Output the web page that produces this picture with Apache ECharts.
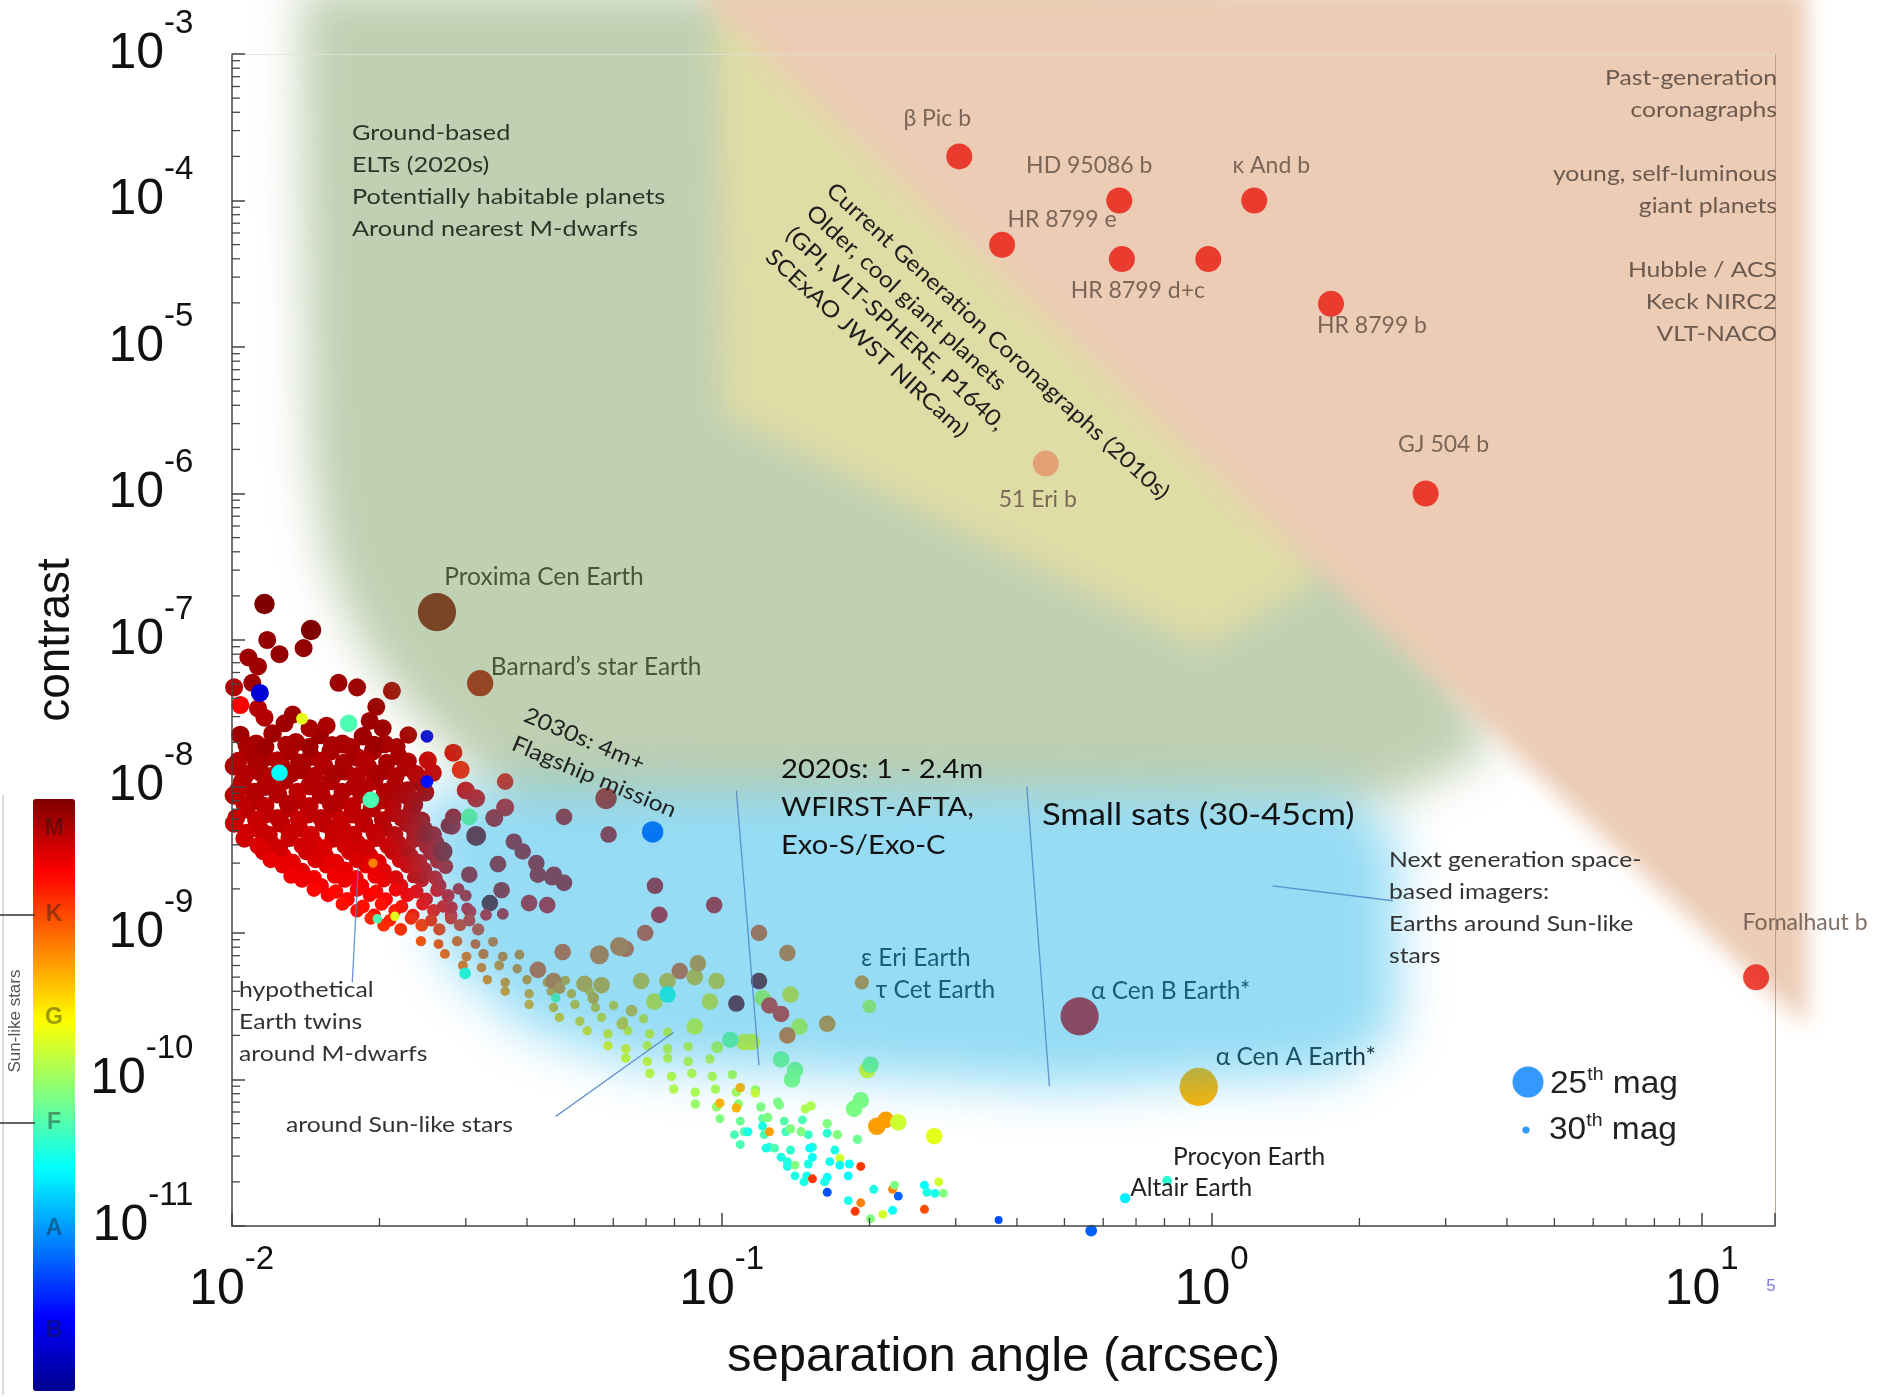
<!DOCTYPE html>
<html>
<head>
<meta charset="utf-8">
<script src="https://cdn.jsdelivr.net/npm/echarts@6/dist/echarts.min.js"></script>
<style>
  html, body { margin: 0; padding: 0; background: #fff; }
  #chart { width: 1883px; height: 1397px; }
</style>
</head>
<body>
<div id="chart"></div>
<script>
// axis ranges (separation in arcsec, contrast)
var X_MIN = 0.01, X_MAX = 14.1;
var Y_MIN = 1e-11, Y_MAX = 1e-3;
var xDecades = [0.01, 0.1, 1, 10];
var yDecades = [1e-11, 1e-10, 1e-9, 1e-8, 1e-7, 1e-6, 1e-5, 1e-4];
var minorSteps = [2, 3, 4, 5, 6, 7, 8, 9];

// hypothetical Earth twins: [separation, contrast, magnitude, spectral type 0=B .. 1=M]
var mDwarfCore = [
  [0.0104, 2.25e-8, 27.6, 0.97], [0.0112, 1.95e-8, 27.5, 0.96], [0.0121, 2.3e-8, 27.6, 0.97], [0.0135, 2.0e-8, 27.5, 0.96],
  [0.0151, 2.25e-8, 27.6, 0.97], [0.0168, 1.95e-8, 27.5, 0.96], [0.0185, 2.2e-8, 27.6, 0.97], [0.0205, 1.95e-8, 27.6, 0.96],
  [0.0229, 2.25e-8, 27.8, 0.96],
  [0.0108, 1.72e-8, 27.5, 0.96], [0.0117, 1.58e-8, 27.5, 0.96], [0.0131, 1.75e-8, 27.6, 0.96], [0.0145, 1.6e-8, 27.5, 0.96],
  [0.0159, 1.74e-8, 27.6, 0.96], [0.0180, 1.58e-8, 27.5, 0.96], [0.0194, 1.75e-8, 27.6, 0.96], [0.0219, 1.6e-8, 27.7, 0.96],
  [0.0101, 1.38e-8, 27.5, 0.95], [0.0114, 1.26e-8, 27.5, 0.96], [0.0126, 1.4e-8, 27.6, 0.95], [0.0139, 1.3e-8, 27.5, 0.96],
  [0.0154, 1.38e-8, 27.5, 0.95], [0.0170, 1.27e-8, 27.6, 0.96], [0.0189, 1.37e-8, 27.5, 0.95], [0.0206, 1.28e-8, 27.6, 0.96],
  [0.0226, 1.35e-8, 27.7, 0.95],
  [0.0105, 1.08e-8, 27.5, 0.95], [0.0117, 1.0e-8, 27.5, 0.95], [0.0128, 1.1e-8, 27.6, 0.95], [0.0144, 1.01e-8, 27.5, 0.95],
  [0.0159, 1.09e-8, 27.6, 0.95], [0.0178, 1.0e-8, 27.5, 0.95], [0.0195, 1.09e-8, 27.6, 0.95], [0.0215, 1.01e-8, 27.6, 0.95],
  [0.0240, 1.07e-8, 27.8, 0.95],
  [0.0101, 8.7e-9, 27.5, 0.94], [0.0112, 8.0e-9, 27.6, 0.95], [0.0124, 8.9e-9, 27.5, 0.95], [0.0136, 8.1e-9, 27.6, 0.95],
  [0.0152, 8.8e-9, 27.5, 0.95], [0.0166, 8.0e-9, 27.6, 0.95], [0.0184, 8.9e-9, 27.5, 0.95], [0.0202, 8.1e-9, 27.6, 0.95],
  [0.0224, 8.8e-9, 27.7, 0.95],
  [0.0107, 7.0e-9, 27.6, 0.94], [0.0117, 6.5e-9, 27.5, 0.94], [0.0131, 7.1e-9, 27.6, 0.94], [0.0143, 6.5e-9, 27.5, 0.94],
  [0.0161, 7.0e-9, 27.6, 0.94], [0.0176, 6.5e-9, 27.5, 0.94], [0.0193, 7.1e-9, 27.6, 0.94], [0.0213, 6.6e-9, 27.7, 0.94],
  [0.0233, 7.0e-9, 27.7, 0.94],
  [0.0101, 5.6e-9, 27.6, 0.93], [0.0114, 5.1e-9, 27.6, 0.93], [0.0126, 5.6e-9, 27.6, 0.94], [0.0137, 5.2e-9, 27.6, 0.93],
  [0.0154, 5.6e-9, 27.6, 0.94], [0.0168, 5.15e-9, 27.6, 0.93], [0.0186, 5.6e-9, 27.6, 0.94], [0.0204, 5.2e-9, 27.7, 0.94],
  [0.0228, 5.6e-9, 27.7, 0.94], [0.0247, 5.1e-9, 27.8, 0.94],
  [0.0106, 4.4e-9, 27.7, 0.92], [0.0120, 4.1e-9, 27.7, 0.92], [0.0131, 4.45e-9, 27.7, 0.93], [0.0147, 4.1e-9, 27.7, 0.92],
  [0.0161, 4.4e-9, 27.7, 0.93], [0.0180, 4.1e-9, 27.7, 0.92], [0.0197, 4.45e-9, 27.7, 0.93], [0.0218, 4.1e-9, 27.8, 0.93],
  [0.0236, 4.4e-9, 27.8, 0.93], [0.0261, 4.1e-9, 28, 0.93],
  [0.0116, 3.6e-9, 27.8, 0.91], [0.0127, 3.35e-9, 27.8, 0.91], [0.0142, 3.6e-9, 27.8, 0.92], [0.0155, 3.35e-9, 27.8, 0.91],
  [0.0174, 3.6e-9, 27.8, 0.92], [0.0191, 3.35e-9, 27.8, 0.91], [0.0213, 3.6e-9, 27.9, 0.92], [0.0231, 3.35e-9, 27.9, 0.92],
  [0.0255, 3.55e-9, 28, 0.92],
  [0.0127, 2.9e-9, 28, 0.9], [0.0139, 2.65e-9, 28, 0.9], [0.0156, 2.9e-9, 28, 0.9], [0.0170, 2.7e-9, 28, 0.9],
  [0.0188, 2.9e-9, 28, 0.9], [0.0204, 2.65e-9, 28.1, 0.9], [0.0228, 2.9e-9, 28.1, 0.91], [0.0247, 2.7e-9, 28.2, 0.91],
  [0.0273, 2.85e-9, 28.3, 0.91],
  [0.0139, 2.3e-9, 28.2, 0.89], [0.0152, 2.1e-9, 28.2, 0.89], [0.0170, 2.3e-9, 28.2, 0.89], [0.0184, 2.1e-9, 28.3, 0.89],
  [0.0204, 2.3e-9, 28.3, 0.89], [0.0221, 2.1e-9, 28.3, 0.89], [0.0244, 2.3e-9, 28.4, 0.9], [0.0265, 2.1e-9, 28.5, 0.9],
  [0.0157, 1.82e-9, 28.4, 0.88], [0.0172, 1.7e-9, 28.4, 0.87], [0.0191, 1.82e-9, 28.5, 0.88], [0.0206, 1.7e-9, 28.5, 0.87],
  [0.0228, 1.82e-9, 28.5, 0.88], [0.0249, 1.7e-9, 28.6, 0.88], [0.0276, 1.8e-9, 28.7, 0.89],
  [0.0180, 1.42e-9, 28.6, 0.86], [0.0195, 1.32e-9, 28.6, 0.86], [0.0215, 1.42e-9, 28.7, 0.85], [0.0234, 1.32e-9, 28.7, 0.86],
  [0.0258, 1.42e-9, 28.7, 0.86], [0.0280, 1.32e-9, 28.8, 0.87], [0.0306, 1.4e-9, 28.8, 0.87],
  [0.0204, 1.13e-9, 28.8, 0.83], [0.0221, 1.06e-9, 28.8, 0.83], [0.0244, 1.13e-9, 28.8, 0.82], [0.0265, 1.06e-9, 28.9, 0.82],
  [0.0292, 1.13e-9, 28.9, 0.83], [0.0318, 1.06e-9, 28.9, 0.83]
];

// stars lying between the rows above, filling the dense M-dwarf mass
var mDwarfFill = [
  [0.0107, 1.92e-8, 27.7, 0.96], [0.0117, 1.86e-8, 27.7, 0.97], [0.0129, 1.93e-8, 27.7, 0.96], [0.0144, 1.87e-8, 27.7, 0.97],
  [0.0160, 1.92e-8, 27.7, 0.96], [0.0175, 1.86e-8, 27.7, 0.96], [0.0195, 1.93e-8, 27.7, 0.97], [0.0217, 1.87e-8, 27.8, 0.96],
  [0.0103, 1.5e-8, 27.7, 0.95], [0.0112, 1.45e-8, 27.7, 0.96], [0.0124, 1.51e-8, 27.7, 0.95], [0.0137, 1.46e-8, 27.7, 0.96],
  [0.0152, 1.5e-8, 27.7, 0.95], [0.0169, 1.45e-8, 27.7, 0.96], [0.0186, 1.51e-8, 27.7, 0.95], [0.0207, 1.46e-8, 27.8, 0.96],
  [0.0229, 1.49e-8, 27.9, 0.95],
  [0.0107, 1.22e-8, 27.7, 0.95], [0.0120, 1.18e-8, 27.7, 0.95], [0.0132, 1.22e-8, 27.7, 0.96], [0.0147, 1.18e-8, 27.7, 0.95],
  [0.0162, 1.22e-8, 27.7, 0.96], [0.0180, 1.18e-8, 27.7, 0.95], [0.0198, 1.22e-8, 27.7, 0.96], [0.0216, 1.18e-8, 27.8, 0.95],
  [0.0238, 1.21e-8, 27.9, 0.95],
  [0.0103, 9.5e-9, 27.7, 0.94], [0.0111, 9.2e-9, 27.7, 0.95], [0.0123, 9.6e-9, 27.7, 0.95], [0.0136, 9.2e-9, 27.7, 0.94],
  [0.0151, 9.5e-9, 27.7, 0.95], [0.0168, 9.2e-9, 27.7, 0.95], [0.0186, 9.6e-9, 27.7, 0.95], [0.0205, 9.2e-9, 27.8, 0.95],
  [0.0228, 9.5e-9, 27.9, 0.95],
  [0.0106, 7.6e-9, 27.7, 0.94], [0.0117, 7.35e-9, 27.7, 0.94], [0.0130, 7.6e-9, 27.7, 0.95], [0.0144, 7.35e-9, 27.7, 0.94],
  [0.0159, 7.6e-9, 27.7, 0.95], [0.0176, 7.35e-9, 27.7, 0.94], [0.0194, 7.6e-9, 27.7, 0.95], [0.0213, 7.35e-9, 27.8, 0.94],
  [0.0236, 7.55e-9, 27.9, 0.95],
  [0.0102, 6.1e-9, 27.7, 0.93], [0.0112, 5.9e-9, 27.7, 0.93], [0.0124, 6.1e-9, 27.7, 0.94], [0.0137, 5.9e-9, 27.7, 0.93],
  [0.0152, 6.1e-9, 27.7, 0.94], [0.0167, 5.9e-9, 27.7, 0.93], [0.0184, 6.1e-9, 27.7, 0.94], [0.0203, 5.9e-9, 27.8, 0.94],
  [0.0222, 6.1e-9, 27.8, 0.94], [0.0244, 5.9e-9, 27.9, 0.94],
  [0.0107, 4.85e-9, 27.8, 0.92], [0.0119, 4.7e-9, 27.8, 0.93], [0.0131, 4.85e-9, 27.8, 0.93], [0.0145, 4.7e-9, 27.8, 0.92],
  [0.0161, 4.85e-9, 27.8, 0.93], [0.0177, 4.7e-9, 27.8, 0.93], [0.0195, 4.85e-9, 27.8, 0.93], [0.0215, 4.7e-9, 27.9, 0.93],
  [0.0236, 4.85e-9, 27.9, 0.93], [0.0258, 4.7e-9, 28, 0.93],
  [0.0113, 3.95e-9, 27.9, 0.91], [0.0125, 3.82e-9, 27.9, 0.92], [0.0139, 3.95e-9, 27.9, 0.92], [0.0154, 3.82e-9, 27.9, 0.91],
  [0.0170, 3.95e-9, 27.9, 0.92], [0.0188, 3.82e-9, 27.9, 0.92], [0.0208, 3.95e-9, 27.9, 0.92], [0.0228, 3.82e-9, 28, 0.92],
  [0.0250, 3.9e-9, 28.1, 0.92],
  [0.0120, 3.15e-9, 28, 0.9], [0.0133, 3.05e-9, 28, 0.9], [0.0148, 3.15e-9, 28, 0.91], [0.0163, 3.05e-9, 28, 0.9],
  [0.0180, 3.15e-9, 28, 0.91], [0.0199, 3.05e-9, 28, 0.9], [0.0220, 3.15e-9, 28.1, 0.91], [0.0241, 3.05e-9, 28.1, 0.91],
  [0.0263, 3.1e-9, 28.2, 0.91],
  [0.0132, 2.45e-9, 28.2, 0.89], [0.0147, 2.38e-9, 28.2, 0.89], [0.0162, 2.45e-9, 28.2, 0.89], [0.0179, 2.38e-9, 28.2, 0.89],
  [0.0196, 2.45e-9, 28.2, 0.89], [0.0216, 2.38e-9, 28.3, 0.9], [0.0238, 2.45e-9, 28.3, 0.9], [0.0260, 2.38e-9, 28.4, 0.9],
  [0.0147, 1.98e-9, 28.4, 0.87], [0.0163, 1.92e-9, 28.4, 0.87], [0.0180, 1.98e-9, 28.4, 0.88], [0.0197, 1.92e-9, 28.5, 0.87],
  [0.0216, 1.98e-9, 28.5, 0.88], [0.0238, 1.92e-9, 28.5, 0.88], [0.0262, 1.96e-9, 28.6, 0.88],
  [0.0168, 1.58e-9, 28.6, 0.86], [0.0185, 1.52e-9, 28.6, 0.86], [0.0202, 1.58e-9, 28.6, 0.86], [0.0222, 1.52e-9, 28.7, 0.86],
  [0.0245, 1.58e-9, 28.7, 0.87], [0.0270, 1.52e-9, 28.8, 0.87],
  [0.0192, 1.26e-9, 28.8, 0.84], [0.0210, 1.22e-9, 28.8, 0.84], [0.0232, 1.26e-9, 28.8, 0.84], [0.0255, 1.22e-9, 28.9, 0.84],
  [0.0280, 1.26e-9, 28.9, 0.85], [0.0305, 1.22e-9, 28.9, 0.85]
];

var mDwarfUpper = [
  [0.01165, 1.76e-7, 27.2, 1.0], [0.0145, 1.17e-7, 27.2, 1.0], [0.0118, 1.0e-7, 27.7, 0.98], [0.0125, 8.0e-8, 27.7, 0.98],
  [0.0140, 8.8e-8, 27.7, 0.98], [0.0108, 7.6e-8, 27.7, 0.97], [0.0113, 6.6e-8, 27.7, 0.97], [0.0101, 4.75e-8, 27.7, 0.95],
  [0.0110, 5.1e-8, 27.7, 0.97], [0.0104, 3.6e-8, 27.7, 0.88], [0.0113, 3.41e-8, 27.7, 0.95], [0.01165, 2.95e-8, 27.7, 0.95],
  [0.0165, 5.1e-8, 27.7, 0.97], [0.0180, 4.75e-8, 27.7, 0.97], [0.0212, 4.5e-8, 27.7, 0.96], [0.0197, 3.5e-8, 27.7, 0.97],
  [0.0133, 3.1e-8, 27.7, 0.97], [0.0128, 2.7e-8, 27.7, 0.97], [0.0144, 2.5e-8, 27.7, 0.96], [0.0156, 2.6e-8, 27.7, 0.96],
  [0.0191, 2.8e-8, 27.7, 0.97], [0.0203, 2.5e-8, 27.7, 0.97], [0.0283, 1.7e-8, 27.7, 0.9], [0.0251, 1.51e-8, 27.7, 0.92],
  [0.0257, 1.24e-8, 27.7, 0.92], [0.0237, 1.22e-8, 27.7, 0.94], [0.0293, 1.3e-8, 27.7, 0.85], [0.0361, 1.08e-8, 28, 0.88],
  [0.0300, 9.4e-9, 27.7, 0.9], [0.0315, 8.3e-9, 27.7, 0.9], [0.0361, 7.2e-9, 27.7, 0.9], [0.0248, 9.1e-9, 27.7, 0.95],
  [0.0231, 8.3e-9, 27.7, 0.95], [0.0213, 9.3e-9, 27.7, 0.95], [0.0281, 5.4e-9, 27.7, 0.92], [0.0343, 6.1e-9, 27.7, 0.92]
];

var midSparse = [
  [0.0247, 4.7e-9, 28, 0.95], [0.0277, 5.4e-9, 28, 0.95], [0.0315, 4.6e-9, 27.3, 0.98], [0.0269, 3.6e-9, 27.3, 0.95],
  [0.0376, 4.2e-9, 28, 0.93], [0.0392, 3.6e-9, 28, 0.93], [0.0418, 3.0e-9, 28, 0.93], [0.0421, 2.5e-9, 28, 0.93],
  [0.0454, 2.5e-9, 28, 0.93], [0.0476, 2.2e-9, 28, 0.93], [0.0587, 4.7e-9, 28, 0.92], [0.0349, 2.95e-9, 28, 0.93],
  [0.0305, 2.5e-9, 28, 0.93], [0.0355, 1.96e-9, 28, 0.93], [0.0404, 1.6e-9, 28, 0.9], [0.0440, 1.55e-9, 28, 0.9],
  [0.0336, 1.6e-9, 28, 1.0], [0.0357, 1.35e-9, 29, 0.9], [0.0226, 3.6e-9, 29, 0.93], [0.0234, 2.4e-9, 29, 0.92],
  [0.0243, 2.4e-9, 29, 0.92], [0.0264, 2.2e-9, 29, 0.9], [0.0290, 2.0e-9, 29, 0.9], [0.0300, 1.8e-9, 29, 0.9],
  [0.0281, 1.5e-9, 29, 0.88], [0.0302, 1.47e-9, 29, 0.88], [0.0330, 1.33e-9, 29, 0.88], [0.0476, 6.2e-9, 28, 0.92],
  [0.0580, 8.3e-9, 27, 0.92], [0.0730, 2.1e-9, 28, 0.92], [0.0745, 1.33e-9, 28, 0.9], [0.0697, 1.0e-9, 28, 0.82],
  [0.0636, 7.8e-10, 28, 0.8], [0.0450, 2.4e-9, 28, 0.93], [0.0283, 6.2e-9, 28, 0.93], [0.0618, 8.1e-10, 27.5, 0.78],
  [0.0562, 7.1e-10, 27.5, 0.78], [0.0473, 7.4e-10, 28, 0.8], [0.0421, 5.6e-10, 28, 0.8], [0.0453, 4.7e-10, 28, 0.78],
  [0.0524, 4.5e-10, 28, 0.72], [0.0568, 4.4e-10, 28, 0.72], [0.0466, 4.2e-10, 29, 0.75], [0.0546, 3.6e-10, 29, 0.72],
  [0.0654, 2.95e-10, 29, 0.7], [0.0626, 2.4e-10, 29, 0.68],
  [0.0964, 1.55e-9, 28, 0.9], [0.119, 1.0e-9, 28, 0.8], [0.136, 7.3e-10, 28, 0.78], [0.0820, 5.5e-10, 28, 0.8],
  [0.0774, 4.7e-10, 28, 0.7], [0.0684, 4.7e-10, 28, 0.7], [0.0880, 5.0e-10, 28, 0.7], [0.0975, 4.7e-10, 28, 0.68],
  [0.0893, 6.2e-10, 28, 0.75], [0.0728, 3.4e-10, 28, 0.65], [0.0945, 3.4e-10, 28, 0.65], [0.0880, 2.3e-10, 28, 0.62],
  [0.119, 4.7e-10, 28, 1.0], [0.107, 3.3e-10, 28, 1.0], [0.121, 3.6e-10, 28, 0.58], [0.125, 3.2e-10, 28, 0.85],
  [0.132, 2.8e-10, 28, 0.85], [0.138, 3.8e-10, 28, 0.65], [0.164, 2.4e-10, 28, 0.75], [0.144, 2.3e-10, 28, 0.6],
  [0.136, 2.0e-10, 28, 0.78], [0.111, 1.8e-10, 28, 0.62], [0.115, 1.8e-10, 28, 0.62], [0.104, 1.87e-10, 28, 0.5],
  [0.132, 1.37e-10, 28, 0.5], [0.141, 1.16e-10, 28, 0.5], [0.139, 1.0e-10, 28, 0.5], [0.198, 1.16e-10, 28, 0.6],
  [0.201, 1.26e-10, 28, 0.5], [0.0978, 1.66e-10, 29, 0.58]
];

var sunLikeBand = [
  [0.0243, 8.8e-10, 29.3, 0.8], [0.0264, 8.4e-10, 29.4, 0.8], [0.0288, 8.8e-10, 29.3, 0.79], [0.0314, 8.4e-10, 29.4, 0.8], [0.0341, 8.7e-10, 29.4, 0.78],
  [0.0272, 7.2e-10, 29.4, 0.78], [0.0301, 6.9e-10, 29.4, 0.77], [0.0326, 7.2e-10, 29.3, 0.78], [0.0357, 6.9e-10, 29.4, 0.77], [0.0386, 7.1e-10, 29.4, 0.76],
  [0.0296, 6.0e-10, 29.4, 0.77], [0.0323, 5.8e-10, 29.5, 0.76], [0.0351, 6.0e-10, 29.4, 0.75], [0.0382, 5.7e-10, 29.5, 0.76], [0.0423, 5.9e-10, 29.4, 0.74],
  [0.0332, 4.8e-10, 29.5, 0.75], [0.0361, 4.6e-10, 29.5, 0.74], [0.0400, 4.8e-10, 29.5, 0.74], [0.0440, 4.6e-10, 29.5, 0.73], [0.0479, 4.75e-10, 29.5, 0.72],
  [0.0361, 4.0e-10, 29.5, 0.73], [0.0404, 3.85e-10, 29.5, 0.72], [0.0448, 4.0e-10, 29.5, 0.72], [0.0493, 3.85e-10, 29.5, 0.71], [0.0537, 4.0e-10, 29.5, 0.7],
  [0.0404, 3.25e-10, 29.5, 0.71], [0.0453, 3.1e-10, 29.5, 0.7], [0.0501, 3.25e-10, 29.5, 0.69], [0.0552, 3.1e-10, 29.5, 0.69], [0.0601, 3.2e-10, 29.5, 0.68],
  [0.0466, 2.65e-10, 29.5, 0.68], [0.0513, 2.5e-10, 29.5, 0.67], [0.0568, 2.65e-10, 29.5, 0.66], [0.0629, 2.5e-10, 29.5, 0.66], [0.0692, 2.6e-10, 29.5, 0.65],
  [0.0531, 2.15e-10, 29.5, 0.65], [0.0585, 2.05e-10, 29.5, 0.64], [0.0643, 2.15e-10, 29.5, 0.63], [0.0712, 2.05e-10, 29.5, 0.63], [0.0775, 2.1e-10, 29.5, 0.62],
  [0.0585, 1.7e-10, 29.5, 0.63], [0.0636, 1.62e-10, 29.5, 0.62], [0.0704, 1.7e-10, 29.5, 0.61], [0.0775, 1.62e-10, 29.5, 0.6], [0.0853, 1.68e-10, 29.5, 0.6],
  [0.0636, 1.4e-10, 29.5, 0.6], [0.0704, 1.33e-10, 29.5, 0.6], [0.0775, 1.4e-10, 29.5, 0.59], [0.0853, 1.33e-10, 29.5, 0.58], [0.0945, 1.38e-10, 29.5, 0.58],
  [0.0712, 1.1e-10, 29.5, 0.58], [0.0789, 1.05e-10, 29.5, 0.57], [0.0868, 1.1e-10, 29.5, 0.57], [0.0956, 1.05e-10, 29.5, 0.56], [0.105, 1.08e-10, 29.5, 0.55],
  [0.0797, 8.6e-11, 29.5, 0.56], [0.0882, 8.2e-11, 29.5, 0.55], [0.0970, 8.6e-11, 29.5, 0.55], [0.107, 8.2e-11, 29.5, 0.54], [0.117, 8.5e-11, 29.5, 0.53],
  [0.0882, 6.8e-11, 29.5, 0.53], [0.0975, 6.5e-11, 29.5, 0.52], [0.108, 6.8e-11, 29.5, 0.52], [0.120, 6.5e-11, 29.5, 0.5], [0.131, 6.7e-11, 29.5, 0.5],
  [0.0990, 5.4e-11, 29.6, 0.5], [0.109, 5.2e-11, 29.6, 0.48], [0.121, 5.4e-11, 29.6, 0.47], [0.134, 5.2e-11, 29.6, 0.46], [0.146, 5.3e-11, 29.6, 0.45],
  [0.111, 4.4e-11, 29.6, 0.46], [0.122, 4.2e-11, 29.6, 0.45], [0.135, 4.4e-11, 29.6, 0.44], [0.150, 4.2e-11, 29.6, 0.43], [0.164, 4.3e-11, 29.6, 0.42],
  [0.125, 3.45e-11, 29.6, 0.43], [0.138, 3.3e-11, 29.6, 0.42], [0.153, 3.45e-11, 29.6, 0.41], [0.170, 3.3e-11, 29.6, 0.4],
  [0.136, 2.75e-11, 29.6, 0.41], [0.150, 2.65e-11, 29.6, 0.4], [0.166, 2.75e-11, 29.6, 0.39], [0.182, 2.65e-11, 29.6, 0.38],
  [0.149, 2.2e-11, 29.6, 0.39], [0.164, 2.15e-11, 29.6, 0.38], [0.181, 2.2e-11, 29.6, 0.37]
];

var faintTail = [
  [0.153, 2.1e-11, 29.6, 0.82], [0.164, 1.7e-11, 29.6, 0.2], [0.181, 1.49e-11, 29.6, 0.4], [0.192, 1.44e-11, 29.6, 0.75],
  [0.187, 1.26e-11, 29.6, 0.82], [0.201, 1.12e-11, 29.6, 0.5], [0.213, 1.2e-11, 29.6, 0.58], [0.204, 1.78e-11, 29.6, 0.4],
  [0.223, 1.78e-11, 29.6, 0.75], [0.225, 1.9e-11, 29.6, 0.5], [0.229, 1.6e-11, 29.6, 0.22], [0.223, 1.28e-11, 29.6, 0.38],
  [0.259, 1.9e-11, 29.6, 0.38], [0.262, 1.7e-11, 29.6, 0.4], [0.272, 1.67e-11, 29.6, 0.4], [0.283, 1.67e-11, 29.6, 0.5],
  [0.277, 2.0e-11, 29.6, 0.58], [0.259, 1.3e-11, 29.6, 0.8], [0.192, 2.55e-11, 29.6, 0.82], [0.174, 2.9e-11, 29.6, 0.58],
  [0.174, 2.6e-11, 29.6, 0.38], [0.153, 2.95e-11, 29.6, 0.38], [0.151, 3.4e-11, 29.6, 0.38], [0.147, 2.0e-11, 29.6, 0.4],
  [0.162, 2.0e-11, 29.6, 0.4], [0.141, 2.2e-11, 29.6, 0.4], [0.136, 2.55e-11, 29.6, 0.4], [0.132, 2.95e-11, 29.6, 0.4],
  [0.141, 2.6e-11, 29.6, 0.5], [0.145, 4.4e-11, 29.5, 0.5], [0.138, 4.6e-11, 29.5, 0.5], [0.128, 3.4e-11, 29.6, 0.45],
  [0.123, 3.4e-11, 29.6, 0.4], [0.121, 4.8e-11, 29.6, 0.4], [0.125, 4.4e-11, 29.6, 0.72], [0.113, 4.4e-11, 29.6, 0.4],
  [0.109, 3.6e-11, 29.6, 0.45], [0.106, 4.2e-11, 29.6, 0.45], [0.172, 4.2e-11, 29.5, 0.5], [0.164, 5.0e-11, 29.5, 0.5],
  [0.189, 3.9e-11, 29.5, 0.48], [0.130, 7.0e-11, 29.5, 0.5], [0.148, 6.3e-11, 29.5, 0.55], [0.152, 6.6e-11, 29.5, 0.55],
  [0.124, 5.5e-11, 29.5, 0.5], [0.107, 6.4e-11, 29.5, 0.7], [0.109, 8.8e-11, 29.5, 0.7], [0.117, 8.1e-11, 29.5, 0.58],
  [0.0990, 6.9e-11, 29.5, 0.7], [0.186, 6.3e-11, 28, 0.5], [0.192, 7.2e-11, 28, 0.5], [0.207, 4.8e-11, 27.8, 0.72],
  [0.216, 5.3e-11, 28, 0.72], [0.229, 5.1e-11, 28, 0.58], [0.271, 4.1e-11, 28, 0.6], [0.367, 1.1e-11, 29.8, 0.2],
  [0.567, 9.3e-12, 29, 0.22]
];

var oddStars = [
  [0.0114, 4.35e-8, 27.7, 0.08], [0.0139, 2.9e-8, 29, 0.6], [0.0173, 2.7e-8, 27.8, 0.45], [0.0250, 2.2e-8, 28.8, 0.1],
  [0.0250, 1.08e-8, 28.8, 0.12], [0.0305, 6.2e-9, 28, 0.5], [0.0192, 8.1e-9, 28, 0.45], [0.0125, 1.24e-8, 28, 0.38],
  [0.0215, 1.3e-9, 29.5, 0.6], [0.0198, 1.25e-9, 29.5, 0.45], [0.0299, 5.3e-10, 29, 0.42], [0.0458, 3.6e-10, 29.5, 0.48],
  [0.0194, 3.0e-9, 29.5, 0.75], [0.0774, 3.8e-10, 28, 0.42], [0.0722, 4.9e-9, 27, 0.2]
];

// named Earths: [name, separation, contrast, magnitude, spectral type]
var namedEarths = [
  ['Proxima Cen Earth', 0.0262, 1.55e-7, 23.5, 1.0],
  ['Barnard\u2019s star Earth', 0.0321, 5.07e-8, 26.0, 0.95],
  ['\u03b5 Eri Earth', 0.193, 4.6e-10, 28.5, 0.75],
  ['\u03c4 Cet Earth', 0.200, 3.16e-10, 28.6, 0.58],
  ['\u03b1 Cen B Earth*', 0.537, 2.7e-10, 23.5, 0.9],
  ['\u03b1 Cen A Earth*', 0.94, 8.9e-11, 23.5, 0.7],
  ['Procyon Earth', 0.81, 2.04e-11, 29.4, 0.42],
  ['Altair Earth', 0.665, 1.55e-11, 29.3, 0.36]
];

// imaged giant planets: [name, separation, contrast]
var giantPlanets = [
  ['\u03b2 Pic b', 0.305, 2.0e-4],
  ['HD 95086 b', 0.647, 1.0e-4],
  ['\u03ba And b', 1.22, 1.0e-4],
  ['HR 8799 e', 0.373, 4.98e-5],
  ['HR 8799 d+c', 0.655, 3.98e-5],
  ['HR 8799 c', 0.983, 3.98e-5],
  ['HR 8799 b', 1.75, 1.97e-5],
  ['GJ 504 b', 2.73, 1.0e-6],
  ['51 Eri b', 0.458, 1.6e-6],
  ['Fomalhaut b', 12.9, 4.98e-10]
];

// shaded capability regions, outlines in data units
var pastCoronagraphs = [[0.0869, 2.8e-3], [16.4, 2.8e-3], [16.4, 2.3e-10]];
var currentCoronagraphs = [[0.0973, 2.8e-3], [0.546, 2.8e-3], [1.69, 2.7e-7], [0.961, 8.8e-8], [0.1, 3.5e-6]];
var groundELTs = [[0.0138, 2.8e-3], [1.0, 2.8e-3], [3.73, 1.76e-8], [2.38, 8.3e-9], [0.0382, 7.8e-9], [0.0297, 1.46e-8],
  [0.0230, 3.41e-8], [0.0183, 9.6e-8], [0.0156, 3.3e-7], [0.01445, 1.8e-6], [0.01397, 1.38e-4]];
var spaceImagers = [[0.0236, 8.3e-9], [0.0361, 1.0e-8], [1.90, 9.1e-9], [2.38, 4.3e-9], [2.38, 2.1e-10], [1.79, 1.08e-10],
  [0.488, 8.9e-11], [0.176, 1.08e-10], [0.0673, 1.24e-10], [0.0393, 2.3e-10], [0.0275, 6.7e-10], [0.0243, 2.9e-9]];

var pointerLines = [
  [[0.0181, 2.8e-9], [0.0176, 4.6e-10]],
  [[0.0458, 5.6e-11], [0.0797, 2.1e-10]],
  [[0.107, 9.4e-9], [0.119, 1.25e-10]],
  [[0.419, 1.0e-8], [0.466, 9.0e-11]],
  [[1.33, 2.1e-9], [2.34, 1.66e-9]]
];

var earthLabelOffset = {
  'Proxima Cen Earth': [107, -35],
  'Barnard\u2019s star Earth': [116, -16],
  '\u03b5 Eri Earth': [54, -24],
  '\u03c4 Cet Earth': [66, -16],
  '\u03b1 Cen B Earth*': [91, -25],
  '\u03b1 Cen A Earth*': [97, -30],
  'Procyon Earth': [82, -24],
  'Altair Earth': [66, -10]
};
var giantLabelOffset = {
  '\u03b2 Pic b': [-22, -38],
  'HD 95086 b': [-30, -35],
  '\u03ba And b': [17, -35],
  'HR 8799 e': [60, -25],
  'HR 8799 d+c': [16, 31],
  'HR 8799 b': [41, 22],
  'GJ 504 b': [18, -49],
  '51 Eri b': [-8, 36],
  'Fomalhaut b': [49, -55]
};

var TICK_FONT = 'Liberation Sans';
var NOTE_FONT = 'Lato';
var NOTE_STRETCH = 1.15;
var SHIFT = 4000;

function magToSize(v) {
  return 7 + (30 - v[2]) * 4.8;
}

function powLabel(v) {
  var e = Math.log10(v);
  var r = Math.round(e);
  if (Math.abs(e - r) > 1e-6) return '';
  return '{b|10}{s|' + r + '}{h| }';
}

var powRich = {
  b: { fontFamily: TICK_FONT, fontSize: 50, lineHeight: 50, verticalAlign: 'bottom', color: '#111' },
  s: { fontFamily: TICK_FONT, fontSize: 33, lineHeight: 33, verticalAlign: 'top', color: '#111' },
  h: { fontSize: 2, lineHeight: 72 }
};

// blurred polygon: the shape is drawn off-screen, only its shadow lands on the plot
function softArea(vertices, color, blur) {
  return {
    type: 'custom',
    silent: true,
    clip: false,
    z: 3,
    data: [[1, 1e-7]],
    renderItem: function (params, api) {
      var pts = vertices.map(function (v) {
        var p = api.coord(v);
        return [p[0] + SHIFT, p[1]];
      });
      return {
        type: 'polygon',
        shape: { points: pts },
        style: { fill: '#000', shadowBlur: blur, shadowColor: color, shadowOffsetX: -SHIFT, shadowOffsetY: 0 }
      };
    }
  };
}

var xMinor = [], yMinor = [];
xDecades.forEach(function (d) {
  minorSteps.forEach(function (m) { if (d * m < X_MAX) xMinor.push(d * m); });
});
yDecades.forEach(function (d) {
  minorSteps.forEach(function (m) { yMinor.push(d * m); });
});

var twins = mDwarfCore.concat(mDwarfFill, mDwarfUpper, sunLikeBand, midSparse, faintTail, oddStars);

function note(x, y, text, size, color, extra) {
  var el = {
    type: 'text', x: x, y: y, z: 50, silent: true, scaleX: NOTE_STRETCH,
    style: {
      text: text, fill: color, fontFamily: NOTE_FONT, fontSize: size,
      textAlign: 'left', textVerticalAlign: 'top', lineHeight: Math.round(size * 1.45)
    }
  };
  if (extra) {
    Object.keys(extra).forEach(function (k) {
      if (k === 'style') Object.assign(el.style, extra.style); else el[k] = extra[k];
    });
  }
  return el;
}

function magKey(x, y, mag) {
  return {
    type: 'text', z: 50, x: x, y: y, silent: true, scaleX: 1.08,
    style: {
      text: '{n|' + mag + '}{t|th}{n| mag}{h| }', textVerticalAlign: 'middle',
      rich: {
        n: { fontFamily: TICK_FONT, fontSize: 31, lineHeight: 31, verticalAlign: 'bottom', fill: '#222' },
        t: { fontFamily: TICK_FONT, fontSize: 18, lineHeight: 18, verticalAlign: 'top', fill: '#222' },
        h: { fontSize: 2, lineHeight: 33 }
      }
    }
  };
}

var chart = echarts.init(document.getElementById('chart'));

var option = {
  animation: false,
  backgroundColor: '#fff',
  grid: { left: 232, right: 108, top: 54, bottom: 171 },
  xAxis: [{
    type: 'log', min: X_MIN, max: X_MAX, z: 10,
    name: 'separation angle (arcsec)', nameLocation: 'middle', nameGap: 107,
    nameTextStyle: { fontFamily: TICK_FONT, fontSize: 49, color: '#111' },
    axisLine: { lineStyle: { color: '#444', width: 1.5 } },
    axisTick: { inside: true, length: 13, lineStyle: { color: '#444', width: 1.5 } },
    axisLabel: { formatter: powLabel, rich: powRich, margin: 17 },
    splitLine: { show: false }
  }, {
    type: 'log', min: X_MIN, max: X_MAX, position: 'top', z: 10,
    axisLine: { lineStyle: { color: 'rgba(225,225,215,0.8)', width: 1 } },
    axisTick: { show: false }, axisLabel: { show: false }, splitLine: { show: false }
  }],
  yAxis: [{
    type: 'log', min: Y_MIN, max: Y_MAX, z: 10,
    name: 'contrast', nameLocation: 'middle', nameGap: 153, nameRotate: 90,
    nameTextStyle: { fontFamily: TICK_FONT, fontSize: 46, color: '#111' },
    axisLine: { lineStyle: { color: '#444', width: 1.5 } },
    axisTick: { inside: true, length: 13, lineStyle: { color: '#444', width: 1.5 } },
    axisLabel: { formatter: powLabel, rich: powRich, margin: 38, padding: [0, 0, 22, 0], showMinLabel: true, showMaxLabel: true },
    splitLine: { show: false }
  }, {
    type: 'log', min: Y_MIN, max: Y_MAX, position: 'right', z: 10,
    axisLine: { lineStyle: { color: 'rgba(190,150,130,0.9)', width: 1 } },
    axisTick: { show: false }, axisLabel: { show: false }, splitLine: { show: false }
  }],
  visualMap: {
    type: 'continuous', min: 0, max: 1, dimension: 3, seriesIndex: [0, 1],
    calculable: false, hoverLink: false, padding: 0,
    left: 33, top: 799, itemWidth: 42, itemHeight: 592,
    inRange: { color: ['#00008F', '#0000FF', '#0080FF', '#00FFFF', '#80FF80', '#FFFF00', '#FF8000', '#FF0000', '#800000'] }
  },
  series: [
    {
      name: 'Earth twins', type: 'scatter', z: 2, clip: false, silent: true,
      symbolSize: magToSize,
      itemStyle: { opacity: 1 },
      data: twins
    },
    {
      name: 'Named Earths', type: 'scatter', z: 2, clip: false, silent: true,
      symbolSize: magToSize,
      itemStyle: { opacity: 1 },
      label: {
        show: true, position: 'inside', formatter: '{b}',
        fontFamily: NOTE_FONT, fontSize: 24.5, color: '#222'
      },
      data: namedEarths.map(function (e) {
        return { name: e[0], value: [e[1], e[2], e[3], e[4]], label: { offset: earthLabelOffset[e[0]] } };
      })
    },
    softArea(groundELTs, 'rgba(115,151,85,0.45)', 45),
    softArea(currentCoronagraphs, 'rgba(224,220,166,1)', 30),
    softArea(pastCoronagraphs, 'rgba(236,204,180,1)', 22),
    softArea(spaceImagers, 'rgba(12,174,232,0.43)', 50),
    {
      name: 'Giant planets', type: 'scatter', z: 4, clip: false, silent: true,
      symbolSize: 26,
      itemStyle: { color: '#E8180C' },
      label: {
        show: true, position: 'inside', formatter: '{b}',
        fontFamily: NOTE_FONT, fontSize: 23, color: '#5e4c42'
      },
      data: giantPlanets.map(function (g) {
        var item = { name: g[0], value: [g[1], g[2]] };
        if (giantLabelOffset[g[0]]) item.label = { offset: giantLabelOffset[g[0]] };
        else item.label = { show: false };
        if (g[0] === '51 Eri b') item.itemStyle = { color: '#E3946A' };
        return item;
      })
    },
    {
      name: 'pointers', type: 'custom', z: 5, silent: true, clip: false,
      data: [[1, 1e-7]],
      renderItem: function (params, api) {
        return {
          type: 'group',
          children: pointerLines.map(function (l) {
            var a = api.coord(l[0]), b = api.coord(l[1]);
            return { type: 'line', shape: { x1: a[0], y1: a[1], x2: b[0], y2: b[1] },
              style: { stroke: 'rgba(80,130,200,0.85)', lineWidth: 1.3 } };
          })
        };
      }
    },
    {
      name: 'minor ticks', type: 'custom', z: 10, silent: true, clip: false,
      data: [[1, 1e-7]],
      renderItem: function (params, api) {
        var kids = [];
        xMinor.forEach(function (v) {
          var p = api.coord([v, Y_MIN]);
          kids.push({ type: 'line', shape: { x1: p[0], y1: p[1], x2: p[0], y2: p[1] - 8 }, style: { stroke: '#444', lineWidth: 1.3 } });
        });
        yMinor.forEach(function (v) {
          var p = api.coord([X_MIN, v]);
          kids.push({ type: 'line', shape: { x1: p[0], y1: p[1], x2: p[0] + 8, y2: p[1] }, style: { stroke: '#444', lineWidth: 1.3 } });
        });
        return { type: 'group', children: kids };
      }
    }
  ],
  graphic: [
    note(352, 117, 'Ground-based\nELTs (2020s)\nPotentially habitable planets\nAround nearest M-dwarfs', 22, '#2d352a', { style: { lineHeight: 32 } }),
    note(840, 176, 'Current Generation Coronagraphs (2010s)\nOlder, cool giant planets\n(GPI, VLT-SPHERE, P1640,\nSCExAO JWST NIRCam)', 22.5, '#1e1e1e',
      { rotation: -0.743, scaleX: 1.1, style: { lineHeight: 30 } }),
    note(531, 700, '2030s: 4m+\nFlagship mission', 22, '#222', { rotation: -0.40, scaleX: 1.12, style: { lineHeight: 31 } }),
    note(781, 750, '2020s: 1 - 2.4m\nWFIRST-AFTA,\nExo-S/Exo-C', 26.5, '#111', { scaleX: 1.1, style: { lineHeight: 38 } }),
    note(1042, 815, 'Small sats (30-45cm)', 30, '#111', { style: { textVerticalAlign: 'middle' } }),
    note(1389, 844, 'Next generation space-\nbased imagers:\nEarths around Sun-like\nstars', 21.5, '#333', { style: { lineHeight: 32 } }),
    note(1777, 62, 'Past-generation\ncoronagraphs', 21.5, '#6b5a50', { style: { textAlign: 'right', lineHeight: 32 } }),
    note(1777, 158, 'young, self-luminous\ngiant planets', 21.5, '#6b5a50', { style: { textAlign: 'right', lineHeight: 32 } }),
    note(1777, 254, 'Hubble / ACS\nKeck NIRC2\nVLT-NACO', 21.5, '#6b5a50', { style: { textAlign: 'right', lineHeight: 32 } }),
    note(239, 974, 'hypothetical\nEarth twins\naround M-dwarfs', 21.5, '#333', { style: { lineHeight: 32 } }),
    note(286, 1125, 'around Sun-like stars', 21.5, '#333', { style: { textVerticalAlign: 'middle' } }),
    // magnitude key
    { type: 'circle', z: 50, silent: true, shape: { cx: 1528, cy: 1082, r: 15.5 }, style: { fill: '#3399FF' } },
    { type: 'circle', z: 50, silent: true, shape: { cx: 1526, cy: 1130, r: 3.6 }, style: { fill: '#3399FF' } },
    magKey(1550, 1083, '25'),
    magKey(1549, 1129, '30'),
    { type: 'text', z: 50, x: 1771, y: 1286, silent: true,
      style: { text: '5', fontFamily: TICK_FONT, fontSize: 17, fill: '#7b7bd8', textAlign: 'center', textVerticalAlign: 'middle' } },
    // spectral type colour bar annotations
    { type: 'line', z: 50, silent: true, shape: { x1: 3, y1: 795, x2: 3, y2: 1395 }, style: { stroke: '#cfcfcf', lineWidth: 1.5 } },
    { type: 'line', z: 50, silent: true, shape: { x1: 0, y1: 915, x2: 35, y2: 915 }, style: { stroke: '#333', lineWidth: 1.5 } },
    { type: 'line', z: 50, silent: true, shape: { x1: 0, y1: 1123, x2: 35, y2: 1123 }, style: { stroke: '#333', lineWidth: 1.5 } },
    { type: 'text', z: 50, x: 15, y: 1021, rotation: Math.PI / 2, silent: true,
      style: { text: 'Sun-like stars', fontFamily: TICK_FONT, fontSize: 17, fill: '#555', textAlign: 'center', textVerticalAlign: 'middle' } }
  ].concat([['M', 829], ['K', 915], ['G', 1018], ['F', 1123], ['A', 1229], ['B', 1331]].map(function (s) {
    return { type: 'text', z: 50, x: 54, y: s[1], silent: true,
      style: { text: s[0], fontFamily: TICK_FONT, fontWeight: 'bold', fontSize: 23, fill: 'rgba(25,25,25,0.42)', textAlign: 'center', textVerticalAlign: 'middle' } };
  }))
};

chart.setOption(option);
</script>
</body>
</html>
